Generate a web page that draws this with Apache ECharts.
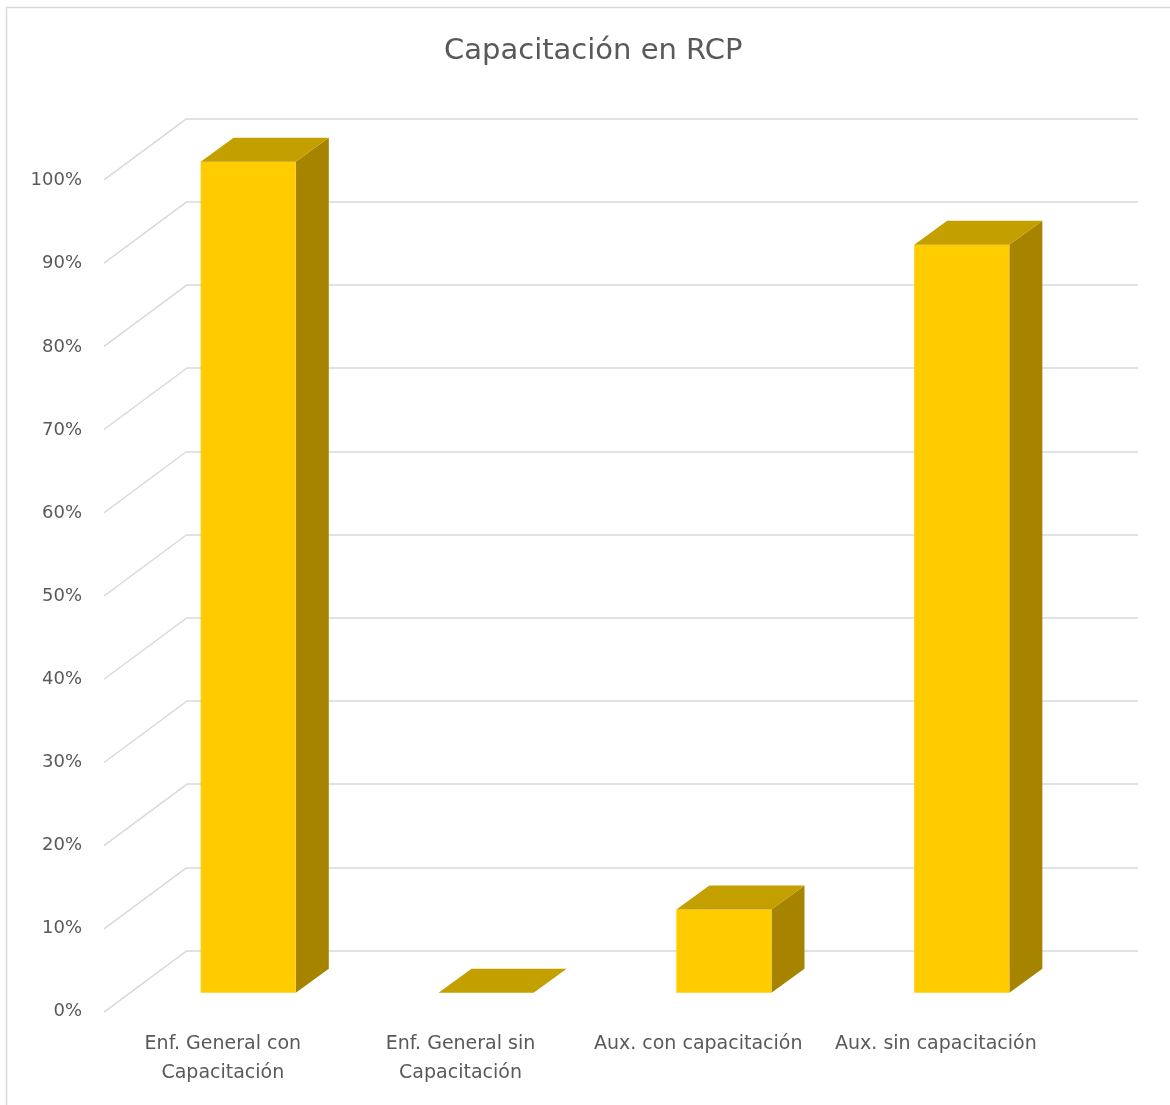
<!DOCTYPE html>
<html>
<head>
<meta charset="utf-8">
<title>Capacitación en RCP</title>
<script src="https://cdn.jsdelivr.net/npm/echarts@6/dist/echarts.min.js"></script>
<style>
  html, body { margin: 0; padding: 0; background: #fff; }
  #chart { width: 1170px; height: 1105px; }
</style>
</head>
<body>
<div id="chart"></div>
<script>
// Data
const categories = ['Enf. General con\nCapacitación', 'Enf. General sin\nCapacitación', 'Aux. con capacitación', 'Aux. sin capacitación'];
const values = [1.00, 0.00, 0.10, 0.90];
const tickValues = [0, 0.1, 0.2, 0.3, 0.4, 0.5, 0.6, 0.7, 0.8, 0.9, 1.0];

// 3D look: full floor depth and bar depth as screen offsets
const FLOOR_DEPTH = [83, -61.5];
const BAR_DEPTH = [33, -24];
const BAR_WIDTH_RATIO = 0.4;

const FONT = '"DejaVu Sans", sans-serif';
const TEXT_COLOR = '#595959';
const GRID_COLOR = '#d9d9d9';
const FRONT = '#ffcc00';
const TOP = '#c49f00';
const SIDE = '#a68400';

const chart = echarts.init(document.getElementById('chart'), null, { renderer: 'canvas' });

function renderBar(params, api) {
  const i = api.value(0);
  const v = api.value(1);
  const base = api.coord([i, 0]);
  const top = api.coord([i, v]);
  const w = api.size([1, 0])[0] * BAR_WIDTH_RATIO;
  const xl = base[0] - w / 2, xr = base[0] + w / 2;
  const yt = top[1], yb = base[1];
  const dx = BAR_DEPTH[0], dy = BAR_DEPTH[1];
  const children = [];
  if (yb - yt > 0) {
    children.push({
      type: 'polygon',
      shape: { points: [[xr, yt], [xr + dx, yt + dy], [xr + dx, yb + dy], [xr, yb]] },
      style: { fill: SIDE }
    });
    children.push({
      type: 'rect',
      shape: { x: xl, y: yt, width: w, height: yb - yt },
      style: { fill: FRONT }
    });
  }
  children.push({
    type: 'polygon',
    shape: { points: [[xl, yt], [xr, yt], [xr + dx, yt + dy], [xl + dx, yt + dy]] },
    style: { fill: TOP }
  });
  return { type: 'group', children: children };
}

function renderDiagonal(params, api) {
  const v = api.value(0);
  const back = api.coord([0, v]);
  return {
    type: 'line',
    shape: { x1: back[0] - FLOOR_DEPTH[0], y1: back[1] - FLOOR_DEPTH[1], x2: back[0], y2: back[1] },
    style: { stroke: GRID_COLOR, lineWidth: 1.5 }
  };
}

const option = {
  animation: false,
  backgroundColor: '#ffffff',
  title: {
    text: 'Capacitación en RCP',
    left: 439,
    top: 32,
    textStyle: { fontFamily: FONT, fontSize: 29, fontWeight: 'normal', color: TEXT_COLOR }
  },
  graphic: [{
    type: 'rect',
    shape: { x: 6.5, y: 7.5, width: 1400, height: 1400 },
    style: { fill: 'none', stroke: GRID_COLOR, lineWidth: 1.5 },
    silent: true
  }],
  grid: [
    // bar front plane
    { left: 129.3, right: 89.3, top: 161.7, bottom: 112.3 },
    // floor front edge (axis labels)
    { left: 104, right: 115.3, top: 180.7, bottom: 93.3 },
    // back wall
    { left: 187, right: 32, top: 118.3, bottom: 154.3 }
  ],
  xAxis: [
    { gridIndex: 0, type: 'category', data: categories, show: false },
    {
      gridIndex: 1, type: 'category', data: categories,
      axisLine: { show: false }, axisTick: { show: false },
      axisLabel: { margin: 18, interval: 0, fontFamily: FONT, fontSize: 19, color: TEXT_COLOR, lineHeight: 29 }
    },
    { gridIndex: 2, type: 'value', min: 0, max: 1, show: false }
  ],
  yAxis: [
    { gridIndex: 0, type: 'value', min: 0, max: 1, interval: 0.1, show: false },
    {
      gridIndex: 1, type: 'value', min: 0, max: 1, interval: 0.1,
      axisLine: { show: false }, axisTick: { show: false }, splitLine: { show: false },
      axisLabel: {
        margin: 22, fontFamily: FONT, fontSize: 18, color: TEXT_COLOR,
        formatter: v => Math.round(v * 100) + '%'
      }
    },
    {
      gridIndex: 2, type: 'value', min: 0, max: 1, interval: 0.1,
      axisLine: { show: false }, axisTick: { show: false }, axisLabel: { show: false },
      splitLine: { show: true, lineStyle: { color: GRID_COLOR, width: 1.5 } }
    }
  ],
  series: [
    {
      type: 'custom', name: 'grid-diagonals', xAxisIndex: 2, yAxisIndex: 2,
      data: tickValues.map(v => [v]), renderItem: renderDiagonal, silent: true, z: 1
    },
    {
      type: 'custom', name: 'Capacitación en RCP', xAxisIndex: 0, yAxisIndex: 0,
      data: values.map((v, i) => [i, v]), renderItem: renderBar, z: 5,
      encode: { x: 0, y: 1 }
    }
  ]
};

chart.setOption(option);
</script>
</body>
</html>
